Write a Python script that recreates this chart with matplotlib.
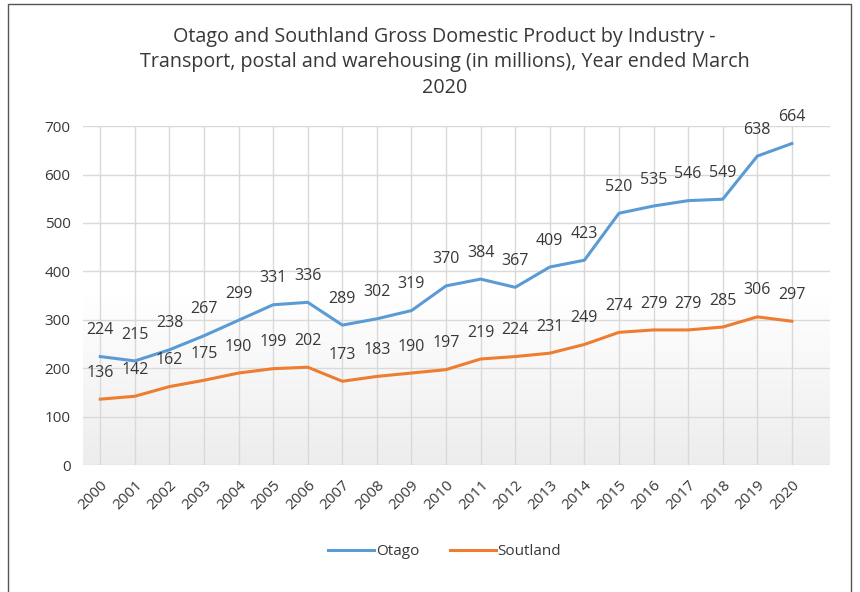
import numpy as np
import matplotlib.pyplot as plt
from matplotlib.patches import Rectangle
from matplotlib.colors import LinearSegmentedColormap

years = [str(y) for y in range(2000, 2021)]
otago = [224, 215, 238, 267, 299, 331, 336, 289, 302, 319, 370, 384, 367, 409, 423,
         520, 535, 546, 549, 638, 664]
southland = [136, 142, 162, 175, 190, 199, 202, 173, 183, 190, 197, 219, 224, 231, 249,
             274, 279, 279, 285, 306, 297]

plt.rcParams['font.family'] = ['Open Sans', 'DejaVu Sans']
txt = '#383838'

fig = plt.figure(figsize=(8.6, 5.92), dpi=100)
ax = fig.add_axes([0.0965, 0.2145, 0.8685, 0.5725])

# gradient background, white at top, light grey at bottom
cm = LinearSegmentedColormap.from_list('bg', ['white', 'white', '#ededed'])
grad = np.linspace(1, 0, 256).reshape(-1, 1)
ax.imshow(grad, extent=[-0.5, 21.1, 0, 700], aspect='auto', cmap=cm,
          vmin=0, vmax=1, origin='lower', zorder=0)

x = np.arange(len(years))
ax.plot(x, otago, color='#5B9BD5', lw=2.2, label='Otago', zorder=3)
ax.plot(x, southland, color='#ED7D31', lw=2.2, label='Soutland', zorder=3)

for i in range(len(years)):
    ax.annotate(str(otago[i]), (x[i], otago[i]), xytext=(0, 19), textcoords='offset points',
                ha='center', va='center', fontsize=11.5, color=txt)
    ax.annotate(str(southland[i]), (x[i], southland[i]), xytext=(0, 19), textcoords='offset points',
                ha='center', va='center', fontsize=11.5, color=txt)

ax.set_xlim(-0.5, 21.1)
ax.set_ylim(0, 700)
ax.set_yticks(range(0, 701, 100))
ax.set_xticks(x)
ax.set_xticklabels(years, rotation=45, ha='right', rotation_mode='anchor')
ax.tick_params(length=0, labelsize=11, colors=txt, pad=9)
ax.grid(True, color='#d9d9d9', lw=1, zorder=1)
for s in ax.spines.values():
    s.set_visible(False)

fig.suptitle('Otago and Southland Gross Domestic Product by Industry -\n'
             'Transport, postal and warehousing (in millions), Year ended March\n2020',
             x=0.517, y=0.955, fontsize=14.2, color=txt, linespacing=1.38)

fig.legend(loc='center', bbox_to_anchor=(0.517, 0.068), ncol=2, frameon=False,
           fontsize=11, labelcolor=txt, handlelength=3, columnspacing=2, handletextpad=0.1)

# outer border of the chart image
fig.patches.append(Rectangle((8 / 860, -0.1), 843 / 860, 1.1 - 4 / 592, transform=fig.transFigure,
                             fill=False, edgecolor='#555555', lw=1))

fig.savefig('out.png', dpi=100)
